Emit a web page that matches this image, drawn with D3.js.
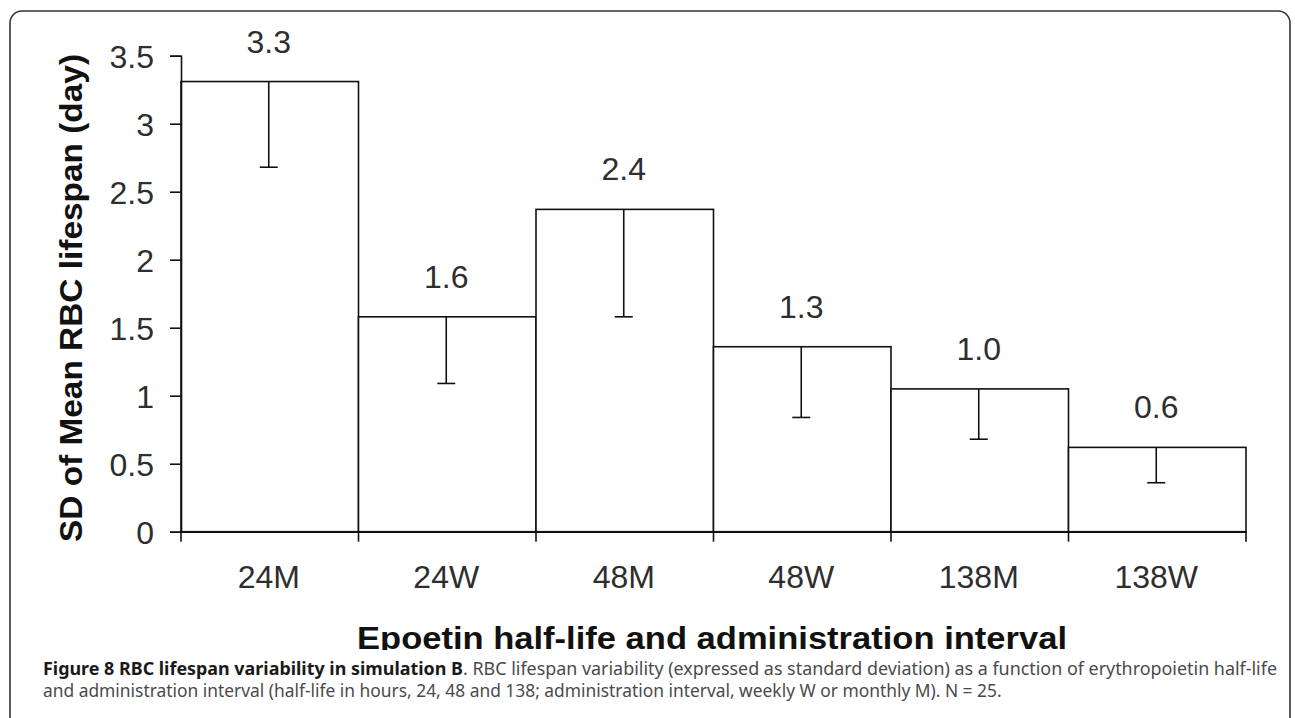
<!DOCTYPE html>
<html>
<head>
<meta charset="utf-8">
<script src="https://cdn.jsdelivr.net/npm/d3@7"></script>
<style>
html,body{margin:0;padding:0;background:#fff;}
svg{display:block;}
</style>
</head>
<body>
<svg id="chart" width="1295" height="718"></svg>
<script>
// ---- data ----
const categories = ["24M", "24W", "48M", "48W", "138M", "138W"];
const meanSD = [3.31, 1.58, 2.37, 1.36, 1.05, 0.62];
const errorDown = [0.63, 0.49, 0.79, 0.52, 0.37, 0.26];
const valueLabels = ["3.3", "1.6", "2.4", "1.3", "1.0", "0.6"];
const yTicks = [0, 0.5, 1, 1.5, 2, 2.5, 3, 3.5];
const yTitle = "SD of Mean RBC lifespan (day)";
const xTitle = "Epoetin half-life and administration interval";
const captionBold = "Figure 8 RBC lifespan variability in simulation B";
const captionRest1 = ". RBC lifespan variability (expressed as standard deviation) as a function of erythropoietin half-life";
const captionLine2 = "and administration interval (half-life in hours, 24, 48 and 138; administration interval, weekly W or monthly M). N = 25.";

const svg = d3.select("#chart");
const axisFont = "'Liberation Sans', Arial, sans-serif";
const numFill = "#2e2e2e";
const numSize = 32;

// frame
svg.append("rect")
  .attr("x", 10).attr("y", 11).attr("width", 1280).attr("height", 760)
  .attr("rx", 12).attr("ry", 12)
  .attr("fill", "none").attr("stroke", "#333").attr("stroke-width", 1.6);

const x = d3.scaleBand().domain(categories).range([181, 1246]).padding(0);
const y = d3.scaleLinear().domain([0, 3.5]).range([531.7, 55.7]);

const data = categories.map((c, i) => ({c, v: meanSD[i], e: errorDown[i], l: valueLabels[i]}));

// bars
svg.append("g").selectAll("rect").data(data).join("rect")
  .attr("x", d => x(d.c)).attr("y", d => y(d.v))
  .attr("width", x.bandwidth()).attr("height", d => y(0) - y(d.v))
  .attr("fill", "#fff").attr("stroke", "#111").attr("stroke-width", 1.6);

// error bars
const eg = svg.append("g").attr("stroke", "#111").attr("stroke-width", 1.6);
eg.selectAll("line.stem").data(data).join("line").attr("class", "stem")
  .attr("x1", d => x(d.c) + x.bandwidth() / 2 - 1).attr("x2", d => x(d.c) + x.bandwidth() / 2 - 1)
  .attr("y1", d => y(d.v)).attr("y2", d => y(d.v - d.e));
eg.selectAll("line.cap").data(data).join("line").attr("class", "cap")
  .attr("x1", d => x(d.c) + x.bandwidth() / 2 - 10).attr("x2", d => x(d.c) + x.bandwidth() / 2 + 8)
  .attr("y1", d => y(d.v - d.e)).attr("y2", d => y(d.v - d.e));

// value labels
svg.append("g").selectAll("text").data(data).join("text")
  .attr("x", d => x(d.c) + x.bandwidth() / 2 - 1).attr("y", d => y(d.v) - 29)
  .attr("text-anchor", "middle")
  .attr("font-family", axisFont).attr("font-size", numSize).attr("fill", numFill)
  .text(d => d.l);

// y axis
const yAxis = svg.append("g").attr("transform", "translate(181,0)")
  .call(d3.axisLeft(y).tickValues(yTicks).tickSize(11).tickPadding(16).tickFormat(d => String(d)));
yAxis.selectAll("path,line").attr("stroke", "#111").attr("stroke-width", 1.6);
yAxis.selectAll("text").attr("font-family", axisFont).attr("font-size", numSize).attr("fill", numFill).attr("dy", "0.36em");

// x axis
const xAxis = svg.append("g").attr("transform", `translate(0,${y(0)})`)
  .call(d3.axisBottom(x).tickSize(0).tickSizeOuter(0).tickPadding(34));
xAxis.select("path").attr("stroke", "#111").attr("stroke-width", 1.6);
xAxis.selectAll("text").attr("font-family", axisFont).attr("font-size", numSize).attr("fill", numFill).attr("dy", "0.71em").attr("transform", "translate(-1,0)");
const bounds = categories.map(c => x(c)).concat([x.range()[1]]);
xAxis.selectAll("line.bt").data(bounds).join("line").attr("class", "bt")
  .attr("x1", d => d).attr("x2", d => d).attr("y1", 0).attr("y2", 10)
  .attr("stroke", "#111").attr("stroke-width", 1.6);

// y title
svg.append("text")
  .attr("transform", "translate(82,298) rotate(-90)")
  .attr("text-anchor", "middle")
  .attr("font-family", axisFont).attr("font-weight", "bold").attr("font-size", 32)
  .attr("fill", "#111")
  .attr("textLength", 488).attr("lengthAdjust", "spacingAndGlyphs")
  .text(yTitle);

// x title (clipped at bottom like reference)
svg.append("clipPath").attr("id", "xtclip").append("rect")
  .attr("x", 0).attr("y", 590).attr("width", 1295).attr("height", 60);
svg.append("text")
  .attr("clip-path", "url(#xtclip)")
  .attr("x", 712).attr("y", 649)
  .attr("text-anchor", "middle")
  .attr("font-family", axisFont).attr("font-weight", "bold").attr("font-size", 32)
  .attr("fill", "#111")
  .attr("textLength", 710).attr("lengthAdjust", "spacingAndGlyphs")
  .text(xTitle);

// caption
const capFont = "'Noto Sans', 'Open Sans', sans-serif";
const l2 = svg.append("text")
  .attr("x", 43).attr("y", 697)
  .attr("font-family", capFont).attr("font-size", 18).attr("fill", "#4a4a4a")
  .text(captionLine2);
const w2 = l2.node().getComputedTextLength();
const fs = 18 * 959 / w2;
l2.attr("font-size", fs);
const l1 = svg.append("text")
  .attr("x", 43).attr("y", 675)
  .attr("font-family", capFont).attr("font-size", fs).attr("fill", "#4a4a4a");
l1.append("tspan").attr("font-weight", "bold").attr("fill", "#1a1a1a").text(captionBold);
l1.append("tspan").text(captionRest1);
l1.attr("textLength", 1234).attr("lengthAdjust", "spacingAndGlyphs");
</script>
</body>
</html>
